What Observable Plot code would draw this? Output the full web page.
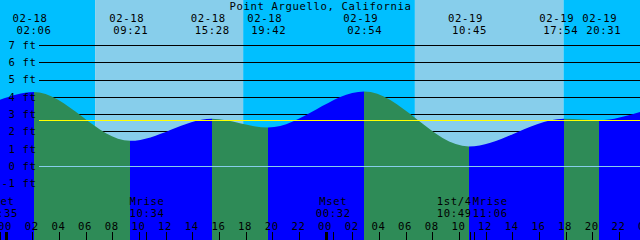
<!DOCTYPE html>
<html><head><meta charset="utf-8">
<script src="https://cdn.jsdelivr.net/npm/d3@7"></script>
<script src="https://cdn.jsdelivr.net/npm/@observablehq/plot@0.6"></script>
<style>
html,body{margin:0;padding:0;background:#fff;}
#chart svg{display:block;}
</style></head><body><div id="chart"></div>
<script>
// ---- data ----
const title = "Point Arguello, California";
const windowTimes = ["02-17 23:35", "02-19 23:35"];
const windowHeights = [3.83, 3.12];
const tideTimes = ["02-18 02:06", "02-18 09:21", "02-18 15:28", "02-18 19:42",
                   "02-19 02:54", "02-19 10:45", "02-19 17:54", "02-19 20:31"];
const tideHeights = [4.28, 1.46, 2.74, 2.23, 4.31, 1.13, 2.74, 2.65];
const sunriseTimes = ["02-18 06:43", "02-19 06:42"];
const sunsetTimes = ["02-18 17:49", "02-19 17:50"];
const moonNames = ["Mset", "Mrise", "Mset", "1st/4", "Mrise"];
const moonTimes = ["02-17 23:35", "02-18 10:34", "02-19 00:32", "02-19 10:49", "02-19 11:06"];
const levelTicks = [-1, 0, 1, 2, 3, 4, 5, 6, 7];
const meanLevel = 2.66;
const datumLevel = 0;
const hourTicks = [0, 2, 4, 6, 8, 10, 12, 14, 16, 18, 20, 22, 24, 26, 28, 30, 32, 34, 36, 38, 40, 42, 44, 46, 48];

// ---- helpers ----
const W = 640, H = 240;
const FS = 10.6;
const yMin = -4.281, yMax = 9.603;
const colors = {day: "#87CEEB", night: "#00BFFF", flood: "#0000FF", ebb: "#2E8B57", mean: "#FFFF00", datum: "#87CEEB"};
function hoursOf(s) {
  const [md, hm] = s.split(" ");
  const dd = +md.split("-")[1];
  const [hh, mm] = hm.split(":").map(Number);
  return (dd - 18) * 24 + hh + mm / 60;
}
const pad = n => String(n).padStart(2, "0");
const tStart = hoursOf(windowTimes[0]), tEnd = hoursOf(windowTimes[1]);
const pxPerH = W / (tEnd - tStart);

const series = [
  {t: tStart, h: windowHeights[0]},
  ...tideTimes.map((s, i) => ({t: hoursOf(s), h: tideHeights[i]})),
  {t: tEnd, h: windowHeights[1]}
].sort((a, b) => a.t - b.t);

const bands = [];
const sr = sunriseTimes.map(hoursOf), ss = sunsetTimes.map(hoursOf);
bands.push({start: tStart, end: sr[0], day: false});
for (let i = 0; i < sr.length; i++) {
  bands.push({start: sr[i], end: ss[i], day: true});
  bands.push({start: ss[i], end: i + 1 < sr.length ? sr[i + 1] : tEnd, day: false});
}

function spread(ts, minSepPx) {
  const out = ts.slice();
  for (let i = 0; i < ts.length - 1; i++) {
    const d = (ts[i + 1] - ts[i]) * pxPerH;
    if (d < minSepPx) {
      const s = (minSepPx - d) / 2 / pxPerH;
      out[i] -= s; out[i + 1] += s;
    }
  }
  return out;
}
const tideEvents = tideTimes.map((s, i) => ({t: hoursOf(s), date: s.split(" ")[0], time: s.split(" ")[1]}));
const tideLabelX = spread(tideEvents.map(d => d.t), 43);
tideEvents.forEach((d, i) => d.lx = tideLabelX[i]);
const moonEvents = moonTimes.map((s, i) => ({t: hoursOf(s), name: moonNames[i], time: s.split(" ")[1]}));
const moonLabelX = spread(moonEvents.map(d => d.t), 36);
moonEvents.forEach((d, i) => d.lx = moonLabelX[i]);

// text row: baseline in px from the frame anchor
const rowTop = b => ({frameAnchor: "top", lineAnchor: "middle", dy: b - 0.32 * FS - 0.5});
const rowBottom = b => ({frameAnchor: "bottom", lineAnchor: "middle", dy: b - H - 0.32 * FS - 0.5});

const plot = Plot.plot({
  width: W, height: H,
  margin: 0,
  x: {domain: [tStart, tEnd], axis: null},
  y: {domain: [yMin, yMax], axis: null},
  style: {fontFamily: "'DejaVu Sans Mono', monospace", fontSize: FS + "px", background: "none", overflow: "hidden"},
  marks: [
    Plot.rect(bands.filter(d => !d.day), {x1: "start", x2: "end", y1: yMin, y2: yMax, fill: colors.night}),
    Plot.rect(bands.filter(d => d.day), {x1: "start", x2: "end", y1: yMin, y2: yMax, fill: colors.day}),
    Plot.ruleY(levelTicks, {stroke: "black", insetLeft: 39, shapeRendering: "crispEdges"}),
    Plot.areaY(series, {x: "t", y1: yMin, y2: "h", curve: "monotone-x", fill: "url(#tideFill)"}),
    Plot.ruleY([datumLevel], {stroke: colors.datum, insetLeft: 39, shapeRendering: "crispEdges"}),
    Plot.ruleY([meanLevel], {stroke: colors.mean, insetLeft: 39, shapeRendering: "crispEdges"}),
    // level labels
    Plot.text(levelTicks, {y: d => d, text: d => `${d} ft`, frameAnchor: "left", textAnchor: "end", dx: 36, fill: "black"}),
    // title
    Plot.text([title], {text: d => d, fill: "black", ...rowTop(9.5)}),
    // tide event labels
    Plot.text(tideEvents, {x: "lx", text: "date", dx: -4, fill: "black", ...rowTop(21.8)}),
    Plot.text(tideEvents, {x: "lx", text: "time", fill: "black", ...rowTop(34)}),
    // moon event labels
    Plot.text(moonEvents, {x: "lx", text: "name", fill: "black", ...rowBottom(205)}),
    Plot.text(moonEvents, {x: "lx", text: "time", fill: "black", ...rowBottom(217.3)}),
    // hour labels + ticks
    Plot.text(hourTicks, {x: d => d, text: d => pad(d % 24), dx: -1, fill: "black", ...rowBottom(229.5)}),
    Plot.ruleX(hourTicks.filter(d => d % 24 !== 0), {x: d => d, insetTop: 232, stroke: "black", shapeRendering: "crispEdges"}),
    Plot.ruleX(hourTicks.filter(d => d % 24 === 0), {x: d => d, insetTop: 232, stroke: "black", strokeWidth: 3, shapeRendering: "crispEdges"}),
    Plot.ruleX(moonEvents, {x: "t", insetTop: 232, stroke: "black", shapeRendering: "crispEdges"})
  ]
});

// letter spacing to match the 7px monospace cell
d3.select(plot).selectAll("text").attr("letter-spacing", "0.62px");

// rising/falling fill built from the x scale
const xs = plot.scale("x");
const ns = "http://www.w3.org/2000/svg";
const defs = document.createElementNS(ns, "defs");
const grad = document.createElementNS(ns, "linearGradient");
grad.setAttribute("id", "tideFill");
grad.setAttribute("gradientUnits", "userSpaceOnUse");
grad.setAttribute("x1", 0); grad.setAttribute("y1", 0);
grad.setAttribute("x2", W); grad.setAttribute("y2", 0);
const clamp = v => Math.max(0, Math.min(1, v));
for (let i = 0; i < series.length - 1; i++) {
  const c = series[i + 1].h > series[i].h ? colors.flood : colors.ebb;
  for (const p of [series[i], series[i + 1]]) {
    const st = document.createElementNS(ns, "stop");
    st.setAttribute("offset", clamp(xs.apply(p.t) / W));
    st.setAttribute("stop-color", c);
    grad.appendChild(st);
  }
}
defs.appendChild(grad);
plot.insertBefore(defs, plot.firstChild);

document.getElementById("chart").appendChild(plot);
</script></body></html>
